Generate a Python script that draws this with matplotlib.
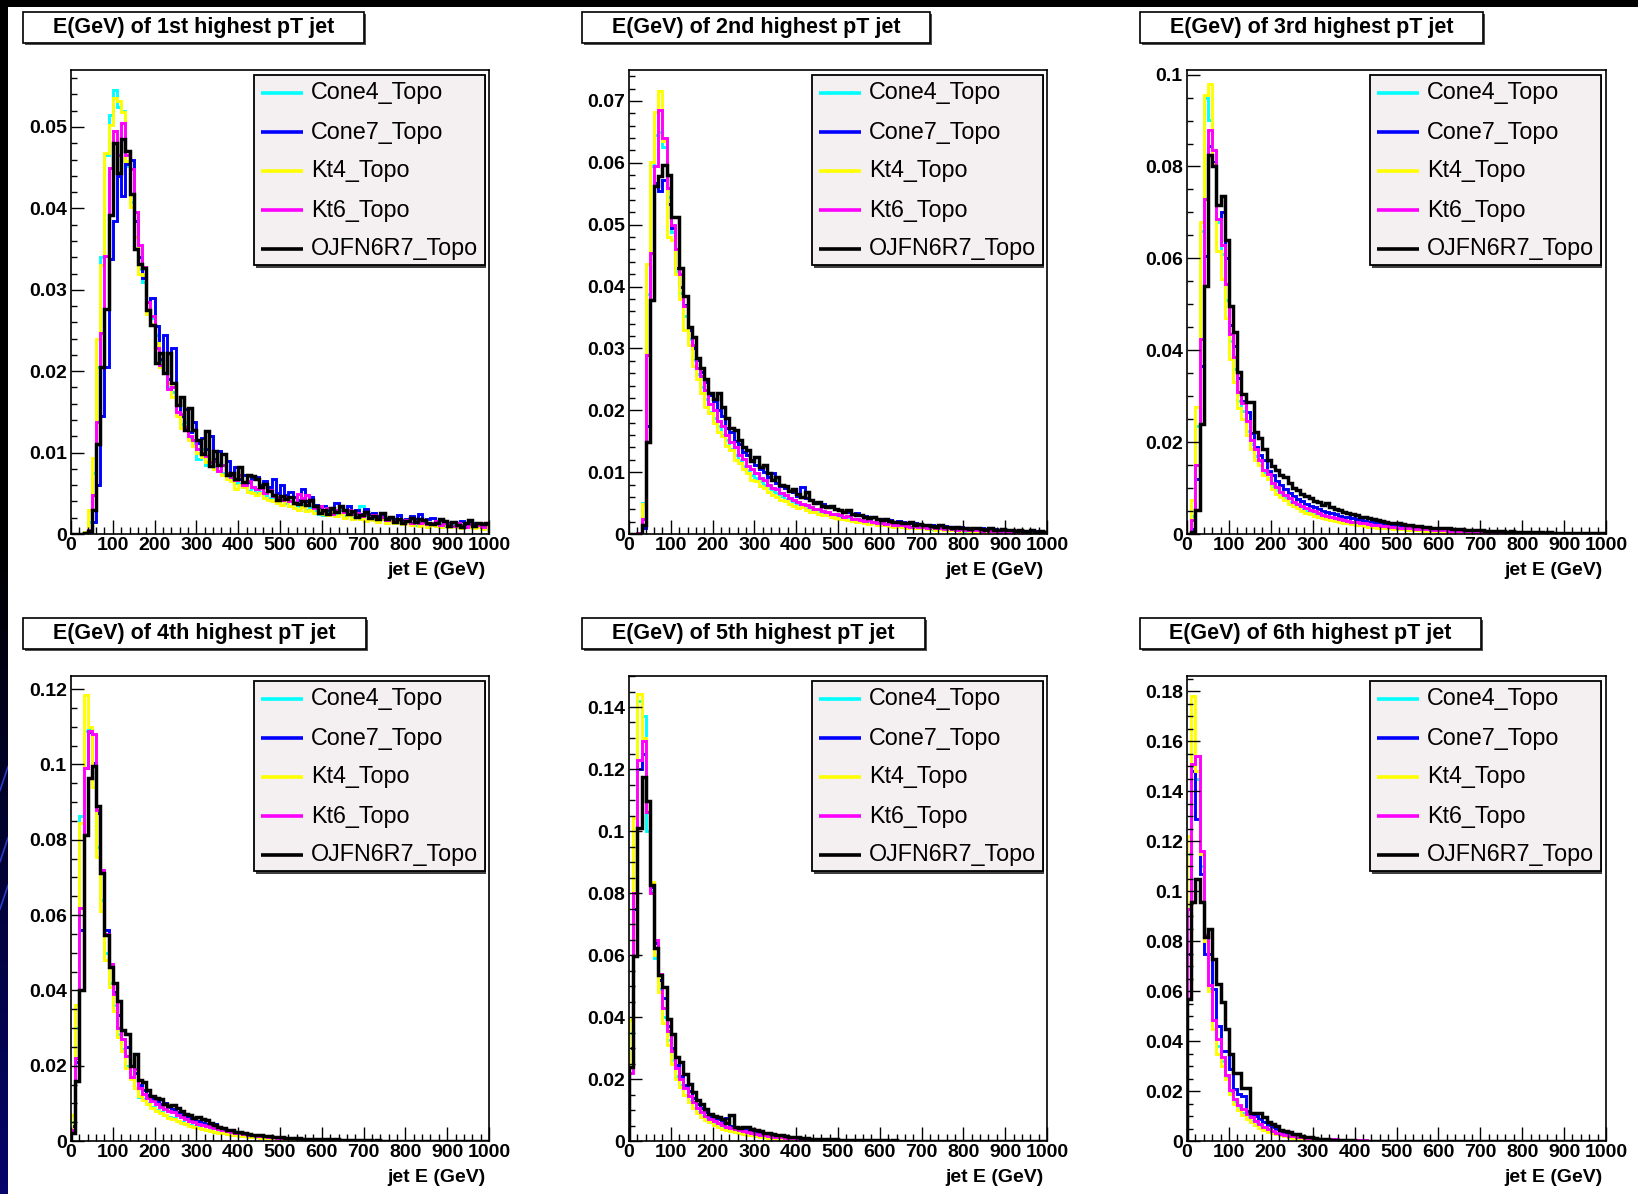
import numpy as np
import matplotlib
matplotlib.use("Agg")
import matplotlib.pyplot as plt
from matplotlib.patches import Rectangle
from matplotlib.ticker import MultipleLocator, FuncFormatter

plt.rcParams['font.family'] = ['Liberation Sans', 'DejaVu Sans']

# ---------------------------------------------------------------- data
edges = np.arange(0, 1001, 10)          # 100 bins of 10 GeV
algorithms = ["Cone4_Topo", "Cone7_Topo", "Kt4_Topo", "Kt6_Topo", "OJFN6R7_Topo"]
titles = ["E(GeV) of 1st highest pT jet", "E(GeV) of 2nd highest pT jet",
          "E(GeV) of 3rd highest pT jet", "E(GeV) of 4th highest pT jet",
          "E(GeV) of 5th highest pT jet", "E(GeV) of 6th highest pT jet"]
y_max = [0.057, 0.075, 0.101, 0.1235, 0.15, 0.186]
y_major = [0.01, 0.01, 0.02, 0.02, 0.02, 0.02]
y_minor = [0.002, 0.002, 0.005, 0.005, 0.005, 0.005]
x_major = 100
x_minor = 20

# 1st jet
e1_cone4 = [0, 0, 0, 0.0002, 0.0015, 0.0075, 0.0205, 0.034, 0.0465, 0.0515,
            0.0545, 0.0525, 0.052, 0.0452, 0.0408, 0.0365, 0.0325, 0.031, 0.0275, 0.0265,
            0.0245, 0.0212, 0.0198, 0.0180, 0.0175, 0.0150, 0.0135, 0.0138, 0.0118, 0.0112,
            0.0092, 0.0105, 0.0085, 0.0090, 0.0082, 0.0087, 0.0075, 0.0070, 0.0066, 0.0063,
            0.0062, 0.0058, 0.0053, 0.0056, 0.0050, 0.0052, 0.0047, 0.0044, 0.0046, 0.0040,
            0.0042, 0.0038, 0.0035, 0.0039, 0.0034, 0.0036, 0.0030, 0.0033, 0.0028, 0.0025,
            0.0023, 0.0026, 0.0028, 0.0024, 0.0030, 0.0022, 0.0025, 0.0020, 0.0022, 0.0035,
            0.0023, 0.0019, 0.0021, 0.0017, 0.0020, 0.0016, 0.0018, 0.0014, 0.0016, 0.0013,
            0.0015, 0.0013, 0.0011, 0.0015, 0.0012, 0.0010, 0.0013, 0.0011, 0.0012, 0.0010,
            0.0009, 0.0011, 0.0008, 0.0010, 0.0009, 0.0011, 0.0008, 0.0009, 0.0010, 0.0008]
e1_cone7 = [0, 0, 0, 0, 0.0002, 0.0015, 0.006, 0.0145, 0.0205, 0.0338,
            0.0385, 0.044, 0.0415, 0.0455, 0.046, 0.0385, 0.034, 0.0315, 0.0285, 0.029,
            0.0255, 0.0215, 0.0245, 0.019, 0.0228, 0.0158, 0.0145, 0.0153, 0.0125, 0.0138,
            0.0112, 0.0118, 0.0105, 0.0120, 0.0092, 0.0102, 0.0085, 0.0090, 0.0074, 0.0082,
            0.0068, 0.0072, 0.0064, 0.0067, 0.0070, 0.0060, 0.0065, 0.0058, 0.0067, 0.0050,
            0.0060, 0.0048, 0.0052, 0.0046, 0.0042, 0.0055, 0.0040, 0.0045, 0.0036, 0.0032,
            0.0034, 0.0029, 0.0031, 0.0038, 0.0033, 0.0030, 0.0034, 0.0027, 0.0029, 0.0024,
            0.0031, 0.0025, 0.0026, 0.0022, 0.0024, 0.0020, 0.0021, 0.0018, 0.0023, 0.0017,
            0.0019, 0.0022, 0.0018, 0.0024, 0.0016, 0.0019, 0.0020, 0.0015, 0.0017, 0.0014,
            0.0013, 0.0015, 0.0012, 0.0016, 0.0011, 0.0014, 0.0013, 0.0010, 0.0012, 0.0011]
e1_kt4 = [0, 0, 0, 0.0003, 0.003, 0.0093, 0.024, 0.033, 0.0468, 0.0502,
          0.0535, 0.0532, 0.0518, 0.0458, 0.0402, 0.0365, 0.032, 0.0318, 0.027, 0.0258,
          0.0235, 0.0205, 0.0198, 0.0185, 0.0168, 0.0145, 0.0130, 0.0133, 0.0115, 0.0108,
          0.0100, 0.0095, 0.0088, 0.0092, 0.0080, 0.0078, 0.0073, 0.0068, 0.0065, 0.0055,
          0.0060, 0.0058, 0.0052, 0.0050, 0.0048, 0.0050, 0.0044, 0.0042, 0.0040, 0.0038,
          0.0036, 0.0040, 0.0034, 0.0032, 0.0030, 0.0033, 0.0028, 0.0030, 0.0026, 0.0029,
          0.0025, 0.0023, 0.0027, 0.0022, 0.0024, 0.0020, 0.0023, 0.0019, 0.0021, 0.0018,
          0.0016, 0.0019, 0.0017, 0.0015, 0.0018, 0.0014, 0.0016, 0.0013, 0.0015, 0.0012,
          0.0014, 0.0011, 0.0013, 0.0010, 0.0012, 0.0009, 0.0011, 0.0010, 0.0008, 0.0011,
          0.0009, 0.0010, 0.0008, 0.0007, 0.0009, 0.0008, 0.0007, 0.0009, 0.0006, 0.0008]
e1_kt6 = [0, 0, 0, 0.0001, 0.0005, 0.0048, 0.0138, 0.0247, 0.0342, 0.045,
          0.0495, 0.0465, 0.0505, 0.0465, 0.0448, 0.0395, 0.0355, 0.0328, 0.0285, 0.0268,
          0.0228, 0.0208, 0.0198, 0.0178, 0.0180, 0.0150, 0.0148, 0.0132, 0.0120, 0.0115,
          0.0104, 0.0100, 0.0096, 0.0088, 0.0090, 0.0078, 0.0085, 0.0075, 0.0070, 0.0066,
          0.0072, 0.0060, 0.0065, 0.0058, 0.0055, 0.0057, 0.0050, 0.0054, 0.0047, 0.0045,
          0.0042, 0.0046, 0.0040, 0.0038, 0.0049, 0.0044, 0.0048, 0.0040, 0.0032, 0.0035,
          0.0028, 0.0032, 0.0025, 0.0029, 0.0033, 0.0027, 0.0030, 0.0024, 0.0026, 0.0022,
          0.0025, 0.0020, 0.0023, 0.0019, 0.0021, 0.0017, 0.0020, 0.0016, 0.0019, 0.0015,
          0.0017, 0.0014, 0.0016, 0.0013, 0.0015, 0.0012, 0.0014, 0.0016, 0.0011, 0.0013,
          0.0012, 0.0010, 0.0013, 0.0011, 0.0009, 0.0012, 0.0010, 0.0011, 0.0009, 0.0012]
e1_ojfn = [0, 0, 0, 0.0001, 0.0004, 0.003, 0.011, 0.0205, 0.0277, 0.0392,
           0.048, 0.0444, 0.0485, 0.047, 0.0418, 0.035, 0.0332, 0.0327, 0.0275, 0.0257,
           0.021, 0.0222, 0.0198, 0.0222, 0.0185, 0.0158, 0.0168, 0.0128, 0.0155, 0.0128,
           0.0115, 0.0098, 0.0126, 0.0083, 0.0102, 0.0085, 0.0098, 0.0072, 0.0075, 0.0068,
           0.0082, 0.0064, 0.0073, 0.0071, 0.0067, 0.0058, 0.0062, 0.0053, 0.0048, 0.0042,
           0.0047, 0.0043, 0.0045, 0.0038, 0.0037, 0.0040, 0.0036, 0.0042, 0.0034, 0.0026,
           0.0030, 0.0024, 0.0032, 0.0027, 0.0035, 0.0030, 0.0025, 0.0028, 0.0021, 0.0023,
           0.0027, 0.0020, 0.0022, 0.0018, 0.0026, 0.0019, 0.0021, 0.0015, 0.0018, 0.0013,
           0.0016, 0.0020, 0.0015, 0.0018, 0.0017, 0.0014, 0.0012, 0.0014, 0.0019, 0.0016,
           0.0010, 0.0015, 0.0011, 0.0009, 0.0014, 0.0017, 0.0010, 0.0013, 0.0012, 0.0014]

# 2nd jet
e2_cone4 = [0, 0, 0.0001, 0.0050, 0.0388, 0.0595, 0.0645, 0.0650, 0.0625, 0.0545,
            0.0488, 0.0425, 0.0390, 0.0352, 0.0315, 0.0282, 0.0258, 0.0238, 0.0218, 0.0198,
            0.0188, 0.0175, 0.0160, 0.0152, 0.0138, 0.0128, 0.0120, 0.0110, 0.0104, 0.0095,
            0.0090, 0.0086, 0.0079, 0.0075, 0.0069, 0.0066, 0.0062, 0.0057, 0.0055, 0.0051,
            0.0049, 0.0046, 0.0044, 0.0040, 0.0039, 0.0037, 0.0034, 0.0033, 0.0030, 0.0030,
            0.0028, 0.0026, 0.0025, 0.0024, 0.0022, 0.0021, 0.0020, 0.0019, 0.0018, 0.0017,
            0.0016, 0.0015, 0.0014, 0.0014, 0.0013, 0.0012, 0.0012, 0.0011, 0.0010, 0.0010,
            0.0010, 0.0009, 0.0008, 0.0009, 0.0008, 0.0007, 0.0007, 0.0006, 0.0007, 0.0006,
            0.0005, 0.0006, 0.0005, 0.0005, 0.0004, 0.0005, 0.0004, 0.0004, 0.0003, 0.0004,
            0.0003, 0.0004, 0.0003, 0.0003, 0.0002, 0.0003, 0.0002, 0.0003, 0.0002, 0.0002]
e2_cone7 = [0, 0, 0, 0.0010, 0.0175, 0.0455, 0.0567, 0.0555, 0.0573, 0.0533,
            0.0495, 0.0430, 0.0400, 0.0370, 0.0330, 0.0300, 0.0282, 0.0262, 0.0245, 0.0225,
            0.0215, 0.0200, 0.0190, 0.0172, 0.0165, 0.0150, 0.0145, 0.0132, 0.0128, 0.0120,
            0.0112, 0.0105, 0.0100, 0.0092, 0.0098, 0.0082, 0.0078, 0.0075, 0.0070, 0.0068,
            0.0062, 0.0076, 0.0058, 0.0055, 0.0052, 0.0050, 0.0048, 0.0045, 0.0043, 0.0040,
            0.0039, 0.0036, 0.0035, 0.0033, 0.0034, 0.0030, 0.0029, 0.0027, 0.0028, 0.0025,
            0.0024, 0.0023, 0.0022, 0.0020, 0.0021, 0.0019, 0.0018, 0.0017, 0.0018, 0.0016,
            0.0015, 0.0014, 0.0015, 0.0013, 0.0012, 0.0013, 0.0011, 0.0012, 0.0010, 0.0011,
            0.0010, 0.0009, 0.0010, 0.0008, 0.0009, 0.0008, 0.0007, 0.0008, 0.0007, 0.0006,
            0.0007, 0.0006, 0.0005, 0.0006, 0.0005, 0.0005, 0.0004, 0.0005, 0.0004, 0.0004]
e2_kt4 = [0, 0, 0.0002, 0.0048, 0.0436, 0.0602, 0.0682, 0.0716, 0.0636, 0.0480,
          0.0475, 0.0420, 0.0380, 0.0330, 0.0305, 0.0272, 0.0250, 0.0228, 0.0205, 0.0195,
          0.0180, 0.0165, 0.0158, 0.0142, 0.0135, 0.0120, 0.0115, 0.0105, 0.0098, 0.0088,
          0.0085, 0.0078, 0.0075, 0.0068, 0.0063, 0.0060, 0.0055, 0.0053, 0.0048, 0.0046,
          0.0042, 0.0044, 0.0039, 0.0036, 0.0035, 0.0032, 0.0030, 0.0031, 0.0027, 0.0026,
          0.0024, 0.0025, 0.0022, 0.0021, 0.0019, 0.0020, 0.0018, 0.0016, 0.0017, 0.0015,
          0.0014, 0.0015, 0.0013, 0.0012, 0.0013, 0.0011, 0.0010, 0.0011, 0.0009, 0.0010,
          0.0009, 0.0008, 0.0009, 0.0007, 0.0008, 0.0007, 0.0006, 0.0007, 0.0006, 0.0005,
          0.0006, 0.0005, 0.0004, 0.0005, 0.0004, 0.0005, 0.0004, 0.0003, 0.0004, 0.0003,
          0.0003, 0.0004, 0.0003, 0.0002, 0.0003, 0.0002, 0.0003, 0.0002, 0.0002, 0.0003]
e2_kt6 = [0, 0, 0.0001, 0.0025, 0.0290, 0.0455, 0.0595, 0.0685, 0.0640, 0.0560,
          0.0500, 0.0460, 0.0420, 0.0368, 0.0335, 0.0305, 0.0268, 0.0255, 0.0232, 0.0210,
          0.0200, 0.0182, 0.0175, 0.0160, 0.0148, 0.0140, 0.0128, 0.0122, 0.0110, 0.0105,
          0.0098, 0.0090, 0.0088, 0.0080, 0.0075, 0.0072, 0.0066, 0.0063, 0.0058, 0.0055,
          0.0052, 0.0049, 0.0047, 0.0043, 0.0041, 0.0040, 0.0037, 0.0035, 0.0033, 0.0032,
          0.0030, 0.0028, 0.0029, 0.0025, 0.0024, 0.0023, 0.0021, 0.0022, 0.0019, 0.0018,
          0.0018, 0.0016, 0.0017, 0.0015, 0.0014, 0.0015, 0.0013, 0.0012, 0.0013, 0.0011,
          0.0011, 0.0010, 0.0011, 0.0009, 0.0010, 0.0008, 0.0009, 0.0008, 0.0007, 0.0008,
          0.0007, 0.0006, 0.0007, 0.0006, 0.0005, 0.0006, 0.0005, 0.0005, 0.0004, 0.0005,
          0.0004, 0.0004, 0.0005, 0.0003, 0.0004, 0.0003, 0.0004, 0.0003, 0.0003, 0.0002]
e2_ojfn = [0, 0, 0, 0.0015, 0.0148, 0.0378, 0.0562, 0.0578, 0.0596, 0.0580,
           0.0513, 0.0513, 0.0430, 0.0385, 0.0335, 0.0318, 0.0285, 0.0268, 0.0250, 0.0228,
           0.0218, 0.0228, 0.0205, 0.0188, 0.0172, 0.0168, 0.0152, 0.0140, 0.0135, 0.0118,
           0.0125, 0.0108, 0.0112, 0.0098, 0.0088, 0.0092, 0.0080, 0.0078, 0.0070, 0.0072,
           0.0065, 0.0060, 0.0068, 0.0055, 0.0050, 0.0052, 0.0046, 0.0043, 0.0045, 0.0040,
           0.0038, 0.0036, 0.0039, 0.0033, 0.0031, 0.0030, 0.0028, 0.0026, 0.0027, 0.0024,
           0.0022, 0.0025, 0.0021, 0.0019, 0.0020, 0.0018, 0.0017, 0.0019, 0.0015, 0.0016,
           0.0014, 0.0015, 0.0013, 0.0012, 0.0014, 0.0011, 0.0012, 0.0010, 0.0011, 0.0009,
           0.0010, 0.0008, 0.0009, 0.0010, 0.0008, 0.0007, 0.0009, 0.0007, 0.0006, 0.0008,
           0.0006, 0.0007, 0.0005, 0.0006, 0.0005, 0.0004, 0.0006, 0.0004, 0.0005, 0.0004]

# 3rd jet
e3_cone4 = [0, 0.0040, 0.0235, 0.0660, 0.0950, 0.0902, 0.0805, 0.0680, 0.0610, 0.0510,
            0.0420, 0.0360, 0.0290, 0.0268, 0.0225, 0.0195, 0.0170, 0.0158, 0.0135, 0.0122,
            0.0105, 0.0095, 0.0086, 0.0078, 0.0070, 0.0066, 0.0058, 0.0054, 0.0050, 0.0047,
            0.0043, 0.0040, 0.0037, 0.0035, 0.0032, 0.0030, 0.0028, 0.0026, 0.0025, 0.0023,
            0.0022, 0.0020, 0.0019, 0.0017, 0.0016, 0.0016, 0.0015, 0.0014, 0.0013, 0.0012,
            0.0011, 0.0011, 0.0010, 0.0009, 0.0009, 0.0008, 0.0008, 0.0007, 0.0007, 0.0007,
            0.0006, 0.0006, 0.0005, 0.0005, 0.0005, 0.0004, 0.0004, 0.0004, 0.0004, 0.0003,
            0.0003, 0.0003, 0.0003, 0.0003, 0.0002, 0.0002, 0.0002, 0.0002, 0.0002, 0.0002,
            0.0002, 0.0002, 0.0001, 0.0002, 0.0001, 0.0001, 0.0001, 0.0001, 0.0001, 0.0001,
            0.0001, 0.0001, 0.0001, 0.0001, 0.0001, 0.0001, 0.0001, 0.0001, 0.0001, 0.0001]
e3_cone7 = [0, 0.0010, 0.0120, 0.0365, 0.0605, 0.0845, 0.0810, 0.0685, 0.0700, 0.0600,
            0.0456, 0.0410, 0.0340, 0.0290, 0.0265, 0.0220, 0.0190, 0.0172, 0.0160, 0.0138,
            0.0128, 0.0115, 0.0106, 0.0098, 0.0090, 0.0083, 0.0077, 0.0072, 0.0066, 0.0062,
            0.0058, 0.0055, 0.0051, 0.0048, 0.0045, 0.0043, 0.0040, 0.0038, 0.0036, 0.0034,
            0.0032, 0.0030, 0.0029, 0.0027, 0.0026, 0.0024, 0.0023, 0.0022, 0.0021, 0.0020,
            0.0019, 0.0018, 0.0017, 0.0016, 0.0015, 0.0014, 0.0014, 0.0013, 0.0012, 0.0012,
            0.0011, 0.0010, 0.0010, 0.0009, 0.0009, 0.0008, 0.0008, 0.0007, 0.0007, 0.0007,
            0.0006, 0.0006, 0.0006, 0.0005, 0.0005, 0.0005, 0.0004, 0.0004, 0.0004, 0.0004,
            0.0003, 0.0003, 0.0003, 0.0003, 0.0003, 0.0003, 0.0002, 0.0002, 0.0002, 0.0002,
            0.0002, 0.0002, 0.0002, 0.0002, 0.0002, 0.0001, 0.0002, 0.0001, 0.0001, 0.0001]
e3_kt4 = [0, 0.0075, 0.0276, 0.0680, 0.0955, 0.0980, 0.0805, 0.0615, 0.0555, 0.0470,
          0.0380, 0.0330, 0.0275, 0.0250, 0.0215, 0.0185, 0.0162, 0.0150, 0.0128, 0.0120,
          0.0098, 0.0088, 0.0080, 0.0074, 0.0066, 0.0060, 0.0056, 0.0050, 0.0046, 0.0043,
          0.0040, 0.0037, 0.0035, 0.0032, 0.0030, 0.0028, 0.0026, 0.0024, 0.0023, 0.0021,
          0.0020, 0.0019, 0.0017, 0.0016, 0.0015, 0.0014, 0.0013, 0.0013, 0.0012, 0.0011,
          0.0010, 0.0010, 0.0009, 0.0009, 0.0008, 0.0008, 0.0007, 0.0007, 0.0006, 0.0006,
          0.0006, 0.0005, 0.0005, 0.0005, 0.0004, 0.0004, 0.0004, 0.0004, 0.0003, 0.0003,
          0.0003, 0.0003, 0.0003, 0.0002, 0.0002, 0.0002, 0.0002, 0.0002, 0.0002, 0.0002,
          0.0002, 0.0001, 0.0002, 0.0001, 0.0001, 0.0001, 0.0001, 0.0001, 0.0001, 0.0001,
          0.0001, 0.0001, 0.0001, 0.0001, 0.0001, 0.0001, 0.0001, 0.0001, 0.0001, 0.0001]
e3_kt6 = [0, 0.0030, 0.0150, 0.0425, 0.0730, 0.0880, 0.0835, 0.0685, 0.0630, 0.0545,
          0.0435, 0.0385, 0.0310, 0.0285, 0.0245, 0.0205, 0.0185, 0.0160, 0.0140, 0.0130,
          0.0110, 0.0102, 0.0092, 0.0084, 0.0078, 0.0070, 0.0066, 0.0060, 0.0056, 0.0052,
          0.0049, 0.0045, 0.0042, 0.0040, 0.0037, 0.0035, 0.0033, 0.0031, 0.0029, 0.0027,
          0.0026, 0.0024, 0.0023, 0.0021, 0.0020, 0.0019, 0.0018, 0.0017, 0.0016, 0.0015,
          0.0014, 0.0014, 0.0013, 0.0012, 0.0011, 0.0011, 0.0010, 0.0010, 0.0009, 0.0009,
          0.0008, 0.0008, 0.0007, 0.0007, 0.0007, 0.0006, 0.0006, 0.0006, 0.0005, 0.0005,
          0.0005, 0.0004, 0.0004, 0.0004, 0.0004, 0.0003, 0.0003, 0.0003, 0.0003, 0.0003,
          0.0003, 0.0002, 0.0002, 0.0002, 0.0002, 0.0002, 0.0002, 0.0002, 0.0002, 0.0001,
          0.0001, 0.0001, 0.0001, 0.0001, 0.0001, 0.0001, 0.0001, 0.0001, 0.0001, 0.0001]
e3_ojfn = [0, 0.0005, 0.0052, 0.0240, 0.0540, 0.0825, 0.0800, 0.0717, 0.0735, 0.0640,
           0.0496, 0.0440, 0.0353, 0.0305, 0.0287, 0.0287, 0.0222, 0.0208, 0.0185, 0.0162,
           0.0148, 0.0140, 0.0128, 0.0125, 0.0112, 0.0100, 0.0095, 0.0088, 0.0082, 0.0078,
           0.0072, 0.0070, 0.0064, 0.0068, 0.0058, 0.0055, 0.0052, 0.0048, 0.0046, 0.0044,
           0.0041, 0.0038, 0.0036, 0.0035, 0.0032, 0.0030, 0.0029, 0.0027, 0.0025, 0.0024,
           0.0023, 0.0022, 0.0020, 0.0019, 0.0018, 0.0017, 0.0016, 0.0015, 0.0014, 0.0014,
           0.0013, 0.0012, 0.0012, 0.0011, 0.0010, 0.0010, 0.0009, 0.0009, 0.0008, 0.0008,
           0.0008, 0.0007, 0.0007, 0.0006, 0.0007, 0.0006, 0.0005, 0.0006, 0.0005, 0.0005,
           0.0004, 0.0005, 0.0004, 0.0004, 0.0004, 0.0003, 0.0004, 0.0003, 0.0003, 0.0003,
           0.0003, 0.0002, 0.0003, 0.0002, 0.0002, 0.0003, 0.0002, 0.0002, 0.0002, 0.0002]

# 4th jet (bins beyond the listed ones are empty)
e4_cone4 = [0.0050, 0.0300, 0.0863, 0.1090, 0.1095, 0.1005, 0.0780, 0.0640, 0.0500, 0.0420,
            0.0360, 0.0285, 0.0245, 0.0200, 0.0168, 0.0142, 0.0118, 0.0112, 0.0100, 0.0090,
            0.0082, 0.0076, 0.0070, 0.0064, 0.0060, 0.0054, 0.0050, 0.0046, 0.0042, 0.0039,
            0.0036, 0.0033, 0.0030, 0.0028, 0.0025, 0.0023, 0.0021, 0.0019, 0.0018, 0.0016,
            0.0015, 0.0014, 0.0012, 0.0011, 0.0011, 0.0010, 0.0009, 0.0008, 0.0008, 0.0007,
            0.0007, 0.0006, 0.0006, 0.0005, 0.0005, 0.0004, 0.0004, 0.0004, 0.0003, 0.0003,
            0.0003, 0.0003, 0.0002, 0.0002, 0.0002, 0.0002, 0.0002, 0.0002, 0.0001, 0.0001,
            0.0001, 0.0001, 0.0001, 0.0001, 0.0001, 0.0001, 0.0001, 0.0001]
e4_cone7 = [0.0040, 0.0210, 0.0560, 0.0990, 0.1085, 0.1005, 0.0870, 0.0720, 0.0560, 0.0470,
            0.0395, 0.0335, 0.0270, 0.0250, 0.0200, 0.0180, 0.0150, 0.0135, 0.0122, 0.0112,
            0.0105, 0.0098, 0.0100, 0.0090, 0.0085, 0.0078, 0.0072, 0.0066, 0.0060, 0.0056,
            0.0052, 0.0048, 0.0045, 0.0042, 0.0046, 0.0036, 0.0032, 0.0030, 0.0027, 0.0025,
            0.0023, 0.0021, 0.0019, 0.0017, 0.0016, 0.0015, 0.0013, 0.0012, 0.0011, 0.0010,
            0.0010, 0.0009, 0.0008, 0.0008, 0.0007, 0.0006, 0.0006, 0.0005, 0.0005, 0.0005,
            0.0004, 0.0004, 0.0004, 0.0003, 0.0003, 0.0003, 0.0003, 0.0002, 0.0002, 0.0002,
            0.0002, 0.0002, 0.0001, 0.0001, 0.0001, 0.0001, 0.0001, 0.0001, 0.0001, 0.0001]
e4_kt4 = [0.0070, 0.0360, 0.0845, 0.1185, 0.1100, 0.0940, 0.0755, 0.0610, 0.0480, 0.0410,
          0.0345, 0.0275, 0.0240, 0.0195, 0.0165, 0.0140, 0.0120, 0.0110, 0.0098, 0.0088,
          0.0080, 0.0074, 0.0068, 0.0062, 0.0058, 0.0052, 0.0048, 0.0044, 0.0040, 0.0037,
          0.0034, 0.0031, 0.0028, 0.0026, 0.0024, 0.0022, 0.0020, 0.0018, 0.0016, 0.0015,
          0.0014, 0.0013, 0.0011, 0.0010, 0.0010, 0.0009, 0.0008, 0.0007, 0.0007, 0.0006,
          0.0006, 0.0005, 0.0005, 0.0004, 0.0004, 0.0004, 0.0003, 0.0003, 0.0003, 0.0003,
          0.0002, 0.0002, 0.0002, 0.0002, 0.0002, 0.0002, 0.0001, 0.0001, 0.0001, 0.0001,
          0.0001, 0.0001, 0.0001, 0.0001, 0.0001, 0.0001]
e4_kt6 = [0.0030, 0.0220, 0.0620, 0.0990, 0.1090, 0.1080, 0.0880, 0.0720, 0.0550, 0.0470,
          0.0390, 0.0300, 0.0270, 0.0225, 0.0170, 0.0190, 0.0140, 0.0125, 0.0115, 0.0105,
          0.0098, 0.0090, 0.0085, 0.0080, 0.0076, 0.0070, 0.0064, 0.0058, 0.0054, 0.0050,
          0.0046, 0.0043, 0.0040, 0.0037, 0.0034, 0.0031, 0.0028, 0.0026, 0.0024, 0.0022,
          0.0020, 0.0018, 0.0017, 0.0016, 0.0014, 0.0013, 0.0012, 0.0011, 0.0010, 0.0009,
          0.0009, 0.0008, 0.0007, 0.0007, 0.0006, 0.0006, 0.0005, 0.0005, 0.0005, 0.0004,
          0.0004, 0.0004, 0.0003, 0.0003, 0.0003, 0.0003, 0.0002, 0.0002, 0.0002, 0.0002,
          0.0002, 0.0002, 0.0001, 0.0001, 0.0001, 0.0001, 0.0001, 0.0001, 0.0001, 0.0001]
e4_ojfn = [0.0021, 0.0160, 0.0400, 0.0814, 0.0963, 0.0997, 0.0889, 0.0711, 0.0546, 0.0462,
           0.0420, 0.0373, 0.0294, 0.0283, 0.0200, 0.0231, 0.0163, 0.0158, 0.0135, 0.0120,
           0.0115, 0.0112, 0.0098, 0.0092, 0.0095, 0.0088, 0.0080, 0.0072, 0.0068, 0.0062,
           0.0065, 0.0058, 0.0055, 0.0048, 0.0042, 0.0037, 0.0035, 0.0030, 0.0028, 0.0025,
           0.0024, 0.0021, 0.0019, 0.0016, 0.0015, 0.0017, 0.0013, 0.0012, 0.0011, 0.0010,
           0.0010, 0.0009, 0.0008, 0.0007, 0.0008, 0.0006, 0.0005, 0.0006, 0.0005, 0.0004,
           0.0005, 0.0004, 0.0003, 0.0004, 0.0003, 0.0003, 0.0002, 0.0003, 0.0002, 0.0002,
           0.0002, 0.0002, 0.0001, 0.0002, 0.0001, 0.0001, 0.0001, 0.0001, 0.0001, 0.0001,
           0.0001, 0.0001, 0.0001, 0.0001, 0.0000, 0.0001, 0.0000, 0.0001]

# 5th jet
e5_cone4 = [0.0350, 0.0800, 0.1420, 0.1370, 0.1000, 0.0805, 0.0590, 0.0490, 0.0400, 0.0325,
            0.0262, 0.0210, 0.0180, 0.0150, 0.0130, 0.0108, 0.0092, 0.0080, 0.0070, 0.0062,
            0.0054, 0.0048, 0.0042, 0.0038, 0.0033, 0.0030, 0.0026, 0.0023, 0.0021, 0.0019,
            0.0017, 0.0015, 0.0013, 0.0012, 0.0011, 0.0010, 0.0009, 0.0008, 0.0007, 0.0006,
            0.0006, 0.0005, 0.0005, 0.0004, 0.0004, 0.0003, 0.0003, 0.0003, 0.0002, 0.0002,
            0.0002, 0.0002, 0.0002, 0.0001, 0.0001, 0.0001, 0.0001, 0.0001, 0.0001, 0.0001]
e5_cone7 = [0.0300, 0.0750, 0.1200, 0.1250, 0.1060, 0.0820, 0.0640, 0.0520, 0.0460, 0.0370,
            0.0300, 0.0245, 0.0210, 0.0180, 0.0160, 0.0140, 0.0120, 0.0108, 0.0095, 0.0082,
            0.0074, 0.0070, 0.0062, 0.0075, 0.0050, 0.0046, 0.0042, 0.0040, 0.0036, 0.0033,
            0.0030, 0.0027, 0.0025, 0.0022, 0.0020, 0.0018, 0.0016, 0.0015, 0.0013, 0.0012,
            0.0011, 0.0010, 0.0009, 0.0008, 0.0007, 0.0007, 0.0006, 0.0005, 0.0005, 0.0004,
            0.0004, 0.0004, 0.0003, 0.0003, 0.0003, 0.0002, 0.0002, 0.0002, 0.0002, 0.0002,
            0.0001, 0.0001, 0.0001, 0.0001, 0.0001]
e5_kt4 = [0.0389, 0.1043, 0.1443, 0.1300, 0.1065, 0.0835, 0.0600, 0.0480, 0.0380, 0.0310,
          0.0250, 0.0200, 0.0175, 0.0150, 0.0125, 0.0105, 0.0090, 0.0078, 0.0068, 0.0060,
          0.0052, 0.0046, 0.0040, 0.0036, 0.0032, 0.0028, 0.0025, 0.0022, 0.0020, 0.0018,
          0.0016, 0.0014, 0.0013, 0.0011, 0.0010, 0.0009, 0.0008, 0.0007, 0.0006, 0.0006,
          0.0005, 0.0005, 0.0004, 0.0004, 0.0003, 0.0003, 0.0003, 0.0002, 0.0002, 0.0002,
          0.0002, 0.0002, 0.0001, 0.0001, 0.0001, 0.0001, 0.0001, 0.0001, 0.0001, 0.0001]
e5_kt6 = [0.0220, 0.0800, 0.1230, 0.1290, 0.1060, 0.0800, 0.0650, 0.0540, 0.0430, 0.0355,
          0.0290, 0.0235, 0.0200, 0.0172, 0.0145, 0.0125, 0.0108, 0.0095, 0.0082, 0.0072,
          0.0064, 0.0058, 0.0052, 0.0046, 0.0042, 0.0038, 0.0034, 0.0031, 0.0028, 0.0025,
          0.0022, 0.0020, 0.0018, 0.0016, 0.0014, 0.0013, 0.0012, 0.0011, 0.0010, 0.0009,
          0.0008, 0.0007, 0.0007, 0.0006, 0.0005, 0.0005, 0.0004, 0.0004, 0.0004, 0.0003,
          0.0003, 0.0003, 0.0002, 0.0002, 0.0002, 0.0002, 0.0002, 0.0001, 0.0001, 0.0001,
          0.0001, 0.0001, 0.0001, 0.0001, 0.0001, 0.0001, 0.0001, 0.0001, 0.0001]
e5_ojfn = [0.0240, 0.0597, 0.1010, 0.1173, 0.1097, 0.0827, 0.0622, 0.0535, 0.0497, 0.0395,
           0.0346, 0.0270, 0.0254, 0.0216, 0.0184, 0.0157, 0.0132, 0.0119, 0.0103, 0.0086,
           0.0081, 0.0078, 0.0070, 0.0059, 0.0084, 0.0045, 0.0043, 0.0044, 0.0046, 0.0040,
           0.0035, 0.0031, 0.0027, 0.0025, 0.0022, 0.0020, 0.0019, 0.0015, 0.0013, 0.0014,
           0.0012, 0.0010, 0.0009, 0.0008, 0.0008, 0.0007, 0.0006, 0.0006, 0.0005, 0.0005,
           0.0004, 0.0004, 0.0004, 0.0003, 0.0003, 0.0003, 0.0002, 0.0003, 0.0002, 0.0002,
           0.0002, 0.0002, 0.0001, 0.0002, 0.0001, 0.0001, 0.0001, 0.0001, 0.0001, 0.0001,
           0.0001, 0.0001, 0.0001]

# 6th jet
e6_cone4 = [0.1150, 0.1500, 0.1450, 0.1100, 0.0800, 0.0610, 0.0450, 0.0380, 0.0320, 0.0260,
            0.0200, 0.0160, 0.0135, 0.0112, 0.0095, 0.0080, 0.0068, 0.0056, 0.0048, 0.0040,
            0.0034, 0.0029, 0.0025, 0.0021, 0.0018, 0.0015, 0.0013, 0.0011, 0.0010, 0.0009,
            0.0008, 0.0007, 0.0006, 0.0005, 0.0004, 0.0004, 0.0003, 0.0003, 0.0002, 0.0002,
            0.0001]
e6_cone7 = [0.0750, 0.1480, 0.1290, 0.1070, 0.0750, 0.0750, 0.0610, 0.0460, 0.0360, 0.0360,
            0.0290, 0.0210, 0.0190, 0.0180, 0.0120, 0.0110, 0.0100, 0.0088, 0.0075, 0.0064,
            0.0056, 0.0048, 0.0040, 0.0034, 0.0029, 0.0025, 0.0021, 0.0018, 0.0016, 0.0014,
            0.0012, 0.0010, 0.0009, 0.0008, 0.0007, 0.0006, 0.0005, 0.0004, 0.0004, 0.0003,
            0.0003, 0.0002, 0.0002, 0.0001]
e6_kt4 = [0.1220, 0.1780, 0.1480, 0.1150, 0.0800, 0.0600, 0.0450, 0.0350, 0.0300, 0.0250,
          0.0190, 0.0150, 0.0125, 0.0105, 0.0090, 0.0075, 0.0064, 0.0054, 0.0045, 0.0038,
          0.0032, 0.0027, 0.0023, 0.0019, 0.0016, 0.0014, 0.0012, 0.0010, 0.0009, 0.0008,
          0.0007, 0.0006, 0.0005, 0.0004, 0.0004, 0.0003, 0.0003, 0.0002, 0.0002, 0.0002,
          0.0001]
e6_kt6 = [0.0930, 0.1510, 0.1540, 0.1160, 0.0825, 0.0625, 0.0485, 0.0410, 0.0335, 0.0265,
          0.0205, 0.0170, 0.0145, 0.0128, 0.0110, 0.0095, 0.0080, 0.0068, 0.0058, 0.0048,
          0.0040, 0.0034, 0.0029, 0.0025, 0.0022, 0.0019, 0.0017, 0.0015, 0.0013, 0.0012,
          0.0011, 0.0010, 0.0009, 0.0008, 0.0007, 0.0007, 0.0006, 0.0005, 0.0005, 0.0004,
          0.0004, 0.0003, 0.0003, 0.0002, 0.0002, 0.0001]
e6_ojfn = [0.0570, 0.0955, 0.1050, 0.0955, 0.0818, 0.0848, 0.0727, 0.0629, 0.0556, 0.0447,
           0.0348, 0.0273, 0.0273, 0.0212, 0.0212, 0.0114, 0.0112, 0.0112, 0.0098, 0.0075,
           0.0068, 0.0062, 0.0045, 0.0040, 0.0035, 0.0030, 0.0027, 0.0022, 0.0018, 0.0015,
           0.0012, 0.0010, 0.0009, 0.0008, 0.0006, 0.0005, 0.0004, 0.0004, 0.0003, 0.0003,
           0.0002, 0.0002, 0.0002, 0.0001, 0.0001]

panels = [
    [e1_cone4, e1_cone7, e1_kt4, e1_kt6, e1_ojfn],
    [e2_cone4, e2_cone7, e2_kt4, e2_kt6, e2_ojfn],
    [e3_cone4, e3_cone7, e3_kt4, e3_kt6, e3_ojfn],
    [e4_cone4, e4_cone7, e4_kt4, e4_kt6, e4_ojfn],
    [e5_cone4, e5_cone7, e5_kt4, e5_kt6, e5_ojfn],
    [e6_cone4, e6_cone7, e6_kt4, e6_kt6, e6_ojfn],
]

# ---------------------------------------------------------------- style
line_colors = ["#00ffff", "#0000ff", "#ffff00", "#ff00ff", "#000000"]
line_widths = [2.1, 2.1, 2.1, 2.1, 2.5]
legend_fill = "#f4eff1"

W, H = 1638, 1194
fig = plt.figure(figsize=(W / 100, H / 100), dpi=100)
fig.patch.set_facecolor("white")

# axes frames in pixels
col_left = [71, 629, 1187]
col_width = [418, 418, 419]
row_top = [70, 676]
row_height = [464, 465]
# title boxes in pixels: (x0, x1, y0, y1)
title_boxes = [(23, 364, 12, 43), (582, 930, 12, 43), (1140, 1483, 12, 43),
               (23, 366, 618, 649), (582, 925, 618, 649), (1140, 1481, 618, 649)]


def bins(vals):
    arr = np.zeros(len(edges) - 1)
    arr[:len(vals)] = vals
    return arr


def yfmt(v, pos):
    v = round(v, 6)
    return "0" if v == 0 else f"{v:g}"


for k in range(6):
    r, c = divmod(k, 3)
    lx, wx = col_left[c], col_width[c]
    ty, hy = row_top[r], row_height[r]
    ax = fig.add_axes([lx / W, 1 - (ty + hy) / H, wx / W, hy / H])

    for vals, col, lw in zip(panels[k], line_colors, line_widths):
        ax.stairs(bins(vals), edges, baseline=0, color=col, lw=lw)

    ax.set_xlim(0, 1000)
    ax.set_ylim(0, y_max[k])
    ax.xaxis.set_major_locator(MultipleLocator(x_major))
    ax.xaxis.set_minor_locator(MultipleLocator(x_minor))
    ax.yaxis.set_major_locator(MultipleLocator(y_major[k]))
    ax.yaxis.set_minor_locator(MultipleLocator(y_minor[k]))
    ax.yaxis.set_major_formatter(FuncFormatter(yfmt))
    ax.tick_params(axis="both", which="both", direction="in", top=False, right=False,
                   width=1.0, colors="black")
    ax.tick_params(axis="y", which="major", length=9, pad=3)
    ax.tick_params(axis="y", which="minor", length=4.5)
    ax.tick_params(axis="x", which="major", length=10, pad=2)
    ax.tick_params(axis="x", which="minor", length=5)
    for lab in ax.get_xticklabels() + ax.get_yticklabels():
        lab.set_fontsize(14)
        lab.set_fontweight("bold")
    for sp in ax.spines.values():
        sp.set_linewidth(1.2)

    ax.text(1 - 3 / wx, -36 / hy, "jet E (GeV)", transform=ax.transAxes,
            ha="right", va="center", fontsize=14, fontweight="bold")

    # legend box, positioned by pixel offsets inside the frame
    def fx(px):
        return px / wx

    def fy(py):
        return 1 - py / hy

    ax.add_patch(Rectangle((fx(185), fy(198)), fx(415) - fx(185), fy(5) - fy(198),
                           transform=ax.transAxes, facecolor="#404040",
                           edgecolor="none", zorder=5, clip_on=False))
    ax.add_patch(Rectangle((fx(183), fy(195)), fx(414) - fx(183), fy(5) - fy(195),
                           transform=ax.transAxes, facecolor=legend_fill,
                           edgecolor="black", lw=1.3, zorder=6, clip_on=False))
    for i, (name, col) in enumerate(zip(algorithms, line_colors)):
        yc = fy(23 + i * 39.0)
        ax.plot([fx(190), fx(232)], [yc, yc], transform=ax.transAxes, color=col,
                lw=2.6, solid_capstyle="butt", zorder=7, clip_on=False)
        ax.text(fx(240), yc, name, transform=ax.transAxes, ha="left", va="center",
                fontsize=16.8, zorder=7)

    # title box with shadow
    x0, x1, y0, y1 = title_boxes[k]
    fig.add_artist(Rectangle(((x0 + 2) / W, 1 - (y1 + 2) / H), (x1 - x0) / W, (y1 - y0) / H,
                             transform=fig.transFigure, facecolor="#505050", edgecolor="none"))
    fig.add_artist(Rectangle((x0 / W, 1 - y1 / H), (x1 - x0) / W, (y1 - y0) / H,
                             transform=fig.transFigure, facecolor="white",
                             edgecolor="black", lw=1.2))
    fig.text((x0 + x1) / 2 / W, 1 - (y0 + y1) / 2 / H, titles[k], ha="center",
             va="center", fontsize=15.5, fontweight="bold")

# dark slide border along the top and left edges
fig.add_artist(Rectangle((0, 1 - 7 / H), 1, 7 / H, transform=fig.transFigure,
                         facecolor="black", edgecolor="none"))
edge_ax = fig.add_axes([0, 0, 8 / W, 1 - 7 / H])
grad = np.linspace(0, 1, 256)[:, None]
rgb = np.zeros((256, 1, 3))
t = np.clip((grad - 0.45) / 0.55, 0, 1)
rgb[..., 2] = 0.42 * t
rgb[..., 0] = 0.02 * t
rgb[..., 1] = 0.02 * t
edge_ax.imshow(rgb, aspect="auto", extent=[0, 1, 1, 0])
edge_ax.set_xlim(0, 1)
edge_ax.set_ylim(1, 0)
for yy in (0.66, 0.72, 0.76):
    edge_ax.plot([0, 1], [yy, yy - 0.02], color="#2a3cc8", lw=1.2)
edge_ax.axis("off")

fig.savefig("out.png", dpi=100, facecolor="white")
